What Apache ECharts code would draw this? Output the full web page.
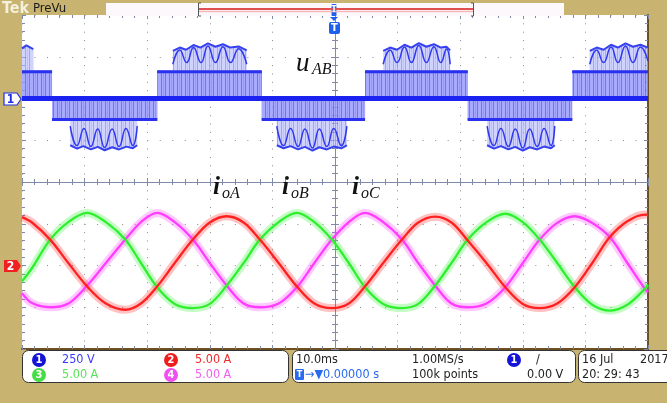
<!DOCTYPE html>
<html><head><meta charset="utf-8">
<script src="https://cdn.jsdelivr.net/npm/echarts@6/dist/echarts.min.js"></script>
<style>html,body{margin:0;padding:0;background:#c8b470;}#c{width:667px;height:403px;}</style>
</head><body><div id="c"></div><script>
// ---- time base (ms, trigger at 0), 10 ms/div ----
const timeMs = [-50,-48.4,-45.5,-42.6,-39.6,-36.6,-33.5,-31.0,-28.4,-25.6,-22.7,-20.0,-17.3,-14.6,-12.0,-9.0,-6.1,-3.3,-0.5,2.2,4.8,7.7,10.7,13.3,16.0,18.6,21.2,24.2,27.2,30.0,32.7,35.5,38.3,41.1,43.9,46.7,49.5,50];
// ---- currents (A), 5 A/div ----
const iOA = [5.8,5.15,3.1,0.3,-2.5,-4.55,-5.3,-4.55,-2.5,0.3,3.1,5.15,5.9,5.15,3.1,0.3,-2.5,-4.55,-5.1,-4.55,-2.5,0.3,3.1,5.15,5.85,5.15,3.0,0.3,-2.6,-4.6,-5.1,-4.55,-2.6,0.3,3.4,5.3,6.1,6.1];
const iOB = [-1.9,-0.3,3.1,5.2,6.3,5.2,3.1,0.3,-2.6,-4.6,-5.1,-4.6,-2.4,0.3,3.1,5.2,6.3,5.2,3.1,0.3,-2.6,-4.6,-5.1,-4.6,-2.4,0.3,3.1,5.2,6.2,5.2,3.1,0.3,-2.6,-4.7,-5.4,-4.7,-2.8,-2.3];
const iOC = [-3.3,-4.5,-5.0,-4.55,-2.4,0.3,3.1,5.2,6.3,5.2,3.1,0.3,-2.4,-4.55,-5.0,-4.55,-2.6,0.3,3.1,5.2,6.3,5.2,3.1,0.3,-2.4,-4.55,-5.0,-4.55,-2.6,0.3,3.1,5.1,5.9,5.1,3.4,0.3,-2.8,-3.2];
// ---- line voltage uAB (V), 250 V/div : [t, V] ----
const uabLevel1 = [[-50,160],[-45.2,160],[-45.2,-125],[-28.4,-125],[-28.4,160],[-11.7,160],[-11.7,-125],[4.8,-125],[4.8,160],[21.2,160],[21.2,-125],[37.9,-125],[37.9,160],[50,160]];
const uabOuter = [
 [-50,300],[-49.3,318],[-48.2,295],[-48.2,160],[-45.2,160],
 [-45.2,-125],[-42.3,-125],[-42.3,-280],[-41.2,-300],[-40.2,-285],[-39.0,-305],[-37.9,-290],[-36.8,-310],[-35.6,-292],[-34.5,-305],[-33.3,-288],[-32.3,-298],[-31.6,-280],[-31.6,-125],[-28.4,-125],
 [-28.4,160],[-25.9,160],[-25.9,285],[-24.8,305],[-23.8,292],[-22.6,320],[-21.5,305],[-20.3,330],[-19.1,310],[-17.9,325],[-16.7,305],[-15.4,312],[-14.1,288],[-14.1,160],[-11.7,160],
 [-11.7,-125],[-9.3,-125],[-9.3,-280],[-8.2,-298],[-7.1,-285],[-5.9,-305],[-4.8,-290],[-3.6,-312],[-2.5,-292],[-1.3,-305],[-0.2,-288],[1.0,-298],[1.9,-280],[1.9,-125],[4.8,-125],
 [4.8,160],[7.7,160],[7.7,285],[8.8,305],[9.9,292],[11.1,322],[12.2,305],[13.4,332],[14.6,310],[15.8,325],[16.9,305],[17.8,310],[18.4,288],[18.4,160],[21.2,160],
 [21.2,-125],[24.3,-125],[24.3,-280],[25.4,-300],[26.5,-285],[27.7,-305],[28.8,-290],[30.0,-312],[31.1,-292],[32.3,-305],[33.4,-288],[34.5,-298],[35.1,-280],[35.1,-125],[37.9,-125],
 [37.9,160],[40.7,160],[40.7,285],[41.8,305],[42.9,292],[44.1,322],[45.2,305],[46.4,330],[47.6,310],[48.8,322],[50,305]];
const uabRipple = [
 [-42.3,-165],[-41.2,-282],[-40.1,-180],[-39.0,-288],[-37.9,-182],[-36.8,-294],[-35.6,-182],[-34.5,-288],[-33.4,-180],[-32.3,-282],[-31.6,-165],null,
 [-25.9,205],[-24.8,290],[-23.7,215],[-22.6,305],[-21.4,215],[-20.3,315],[-19.1,215],[-17.9,310],[-16.7,215],[-15.4,298],[-14.1,205],null,
 [-9.3,-165],[-8.2,-282],[-7.1,-180],[-5.9,-288],[-4.8,-182],[-3.6,-296],[-2.5,-182],[-1.3,-288],[-0.2,-180],[1.0,-282],[1.9,-165],null,
 [7.7,205],[8.8,290],[9.9,215],[11.1,308],[12.2,215],[13.4,318],[14.6,215],[15.8,310],[16.9,215],[17.8,296],[18.4,205],null,
 [24.3,-165],[25.4,-282],[26.5,-180],[27.7,-288],[28.8,-182],[30.0,-296],[31.1,-182],[32.3,-288],[33.4,-180],[34.5,-282],[35.1,-165],null,
 [40.7,205],[41.8,290],[42.9,215],[44.1,308],[45.2,215],[46.4,315],[47.6,215],[48.8,308],[50,225]];
const uabZero = [[-50,0],[50,0]];

const BLUE='#1c22f0', RED='#ff2020', GREEN='#2ef02e', MAG='#ff3cff';
const TICK='#7f89a8', DOT='#8c8c8c', BROWN='#6e4f22';
const FONT='"DejaVu Sans Condensed","DejaVu Sans",sans-serif';

function pattern(base, a1, a2){
  const c=document.createElement('canvas'); c.width=8; c.height=4;
  const g=c.getContext('2d');
  g.fillStyle=base; g.fillRect(0,0,8,4);
  g.fillStyle='rgba(50,60,245,'+a1+')'; g.fillRect(1,0,1,4); g.fillRect(5,0,1,4);
  g.fillStyle='rgba(90,100,255,'+a2+')'; g.fillRect(3,0,1,4);
  return {image:c, repeat:'repeat'};
}
const pts = a => timeMs.map((t,i)=>[t,a[i]]);
// break a stepped trace at its vertical edges so only the horizontal runs are stroked
function runsOnly(a){const o=[];a.forEach((p,i)=>{if(i>0&&a[i-1][0]===p[0])o.push(null);o.push(p);});return o;}

function xa(o){return Object.assign({type:'value',min:-50,max:50,interval:10,axisLabel:{show:false},splitLine:{show:false},axisTick:{show:false},minorTick:{show:false},axisLine:{show:false,onZero:false}},o);}
function ya(o){return Object.assign({type:'value',min:-4,max:4,interval:1,axisLabel:{show:false},splitLine:{show:false},axisTick:{show:false},minorTick:{show:false},axisLine:{show:false,onZero:false}},o);}
const tk = (inside)=>({show:true,inside:inside,length:4,lineStyle:{color:TICK}});
const mtk = {show:true,splitNumber:5,length:3,lineStyle:{color:TICK}};

const xAxis=[
 xa({position:'bottom',axisLine:{show:true,onZero:false,lineStyle:{color:BROWN,width:2}},axisTick:tk(true),minorTick:mtk,
     splitLine:{show:true,lineStyle:{color:DOT,width:1,type:[1,7.35]}}}),
 xa({position:'top',axisTick:tk(true),minorTick:mtk}),
 xa({position:'bottom',axisLine:{show:true,onZero:true,onZeroAxisIndex:0,lineStyle:{color:TICK,width:1}},axisTick:tk(false),minorTick:mtk}),
 xa({position:'bottom',axisLine:{show:false,onZero:true,onZeroAxisIndex:0},axisTick:tk(true),minorTick:mtk})
];
const yAxis=[
 ya({position:'left',axisTick:tk(true),minorTick:mtk,splitLine:{show:true,lineStyle:{color:DOT,width:1,type:[1,11.52]}}}),
 ya({position:'right',axisLine:{show:true,onZero:false,lineStyle:{color:BROWN,width:2}},axisTick:tk(true),minorTick:mtk}),
 ya({position:'left',axisLine:{show:true,onZero:true,onZeroAxisIndex:0,lineStyle:{color:TICK,width:1}},axisTick:tk(false),minorTick:mtk}),
 ya({position:'left',axisLine:{show:false,onZero:true,onZeroAxisIndex:0},axisTick:tk(true),minorTick:mtk}),
 {type:'value',min:-1500,max:500,show:false},
 {type:'value',min:-10,max:30,show:false}
];

const L = (name,data,yi,style,extra)=>Object.assign({name,type:'line',data,xAxisIndex:0,yAxisIndex:yi,symbol:'none',silent:true,animation:false,lineStyle:style},extra||{});
const series=[
 L('uAB band',uabOuter,4,{width:0,opacity:0},{areaStyle:{origin:'auto',color:pattern('rgba(178,182,255,0.85)',0.5,0.3)},z:2}),
 L('uAB L1 band',uabLevel1,4,{width:0,opacity:0},{areaStyle:{origin:'auto',color:pattern('rgba(125,130,255,0.7)',0.55,0.35)},z:3}),
 L('uAB ripple',uabRipple,4,{width:1.5,color:'#3038ee'},{smooth:0.5,connectNulls:false,z:4}),
 L('uAB top',runsOnly(uabOuter),4,{width:2,color:'#3540f0'},{connectNulls:false,z:4}),
 L('uAB L1',runsOnly(uabLevel1),4,{width:3,color:'#2a30f0'},{connectNulls:false,z:4}),
 L('uAB zero',uabZero,4,{width:5,color:BLUE},{z:5}),
 L('iC glow',pts(iOC),5,{width:8,color:MAG,opacity:0.28},{smooth:0.35,z:6}),
 L('iC',pts(iOC),5,{width:2.3,color:MAG},{smooth:0.35,z:7}),
 L('iB glow',pts(iOB),5,{width:8,color:GREEN,opacity:0.28},{smooth:0.35,z:6}),
 L('iB',pts(iOB),5,{width:2.3,color:GREEN},{smooth:0.35,z:7}),
 L('iA glow',pts(iOA),5,{width:8,color:RED,opacity:0.28},{smooth:0.35,z:6}),
 L('iA',pts(iOA),5,{width:2.3,color:RED},{smooth:0.35,z:7})
];

// ---- decorations (screen furniture of the scope) ----
const G=[];
const T=(x,y,s,fill,font,align,va)=>G.push({type:'text',x,y,z:50,style:{text:s,fill,font,align:align||'left',verticalAlign:va||'middle'}});
const R=(x,y,w,h,fill,stroke,r,lw)=>G.push({type:'rect',z:40,shape:{x,y,width:w,height:h,r:r||0},style:{fill,stroke:stroke||null,lineWidth:lw||1}});
const C=(cx,cy,fill,label)=>{G.push({type:'circle',z:45,shape:{cx,cy,r:7},style:{fill}});T(cx,cy+0.5,label,'#fff','bold 11px '+FONT,'center','middle');};
// header
T(2,9,'Tek','#f4f0dc','bold 16px '+FONT);
T(33,9,'PreVu','#1a1a1a','13px '+FONT);
R(106,3,458,13,'#fdf8fb');
G.push({type:'line',z:42,shape:{x1:199,y1:9,x2:473,y2:9},style:{stroke:'#e05050',lineWidth:2}});
G.push({type:'line',z:42,shape:{x1:199,y1:11.5,x2:473,y2:11.5},style:{stroke:'#f4b8b8',lineWidth:1.5}});
G.push({type:'polyline',z:42,shape:{points:[[201,3],[198.5,3],[198.5,16],[201,16]]},style:{stroke:'#555',fill:null,lineWidth:1}});
G.push({type:'polyline',z:42,shape:{points:[[471,3],[473.5,3],[473.5,16],[471,16]]},style:{stroke:'#555',fill:null,lineWidth:1}});
R(331.5,4,5,12,'#1f5ff0',null,1);
T(334,10,'T','#fff','bold 9px '+FONT,'center');
// trigger marker in plot
G.push({type:'polygon',z:44,shape:{points:[[330,17],[338,17],[334,21]]},style:{fill:'#1f5ff0'}});
R(329,22,11,12,'#1f5ff0',null,2);
T(334.5,28.5,'T','#fff','bold 11px '+FONT,'center');
// channel markers
G.push({type:'polygon',z:44,shape:{points:[[4,93],[17,93],[21,99],[17,105],[4,105]]},style:{fill:'#fff',stroke:'#2030e0',lineWidth:1.2}});
T(10.5,99.5,'1','#2030e0','bold 12px '+FONT,'center');
G.push({type:'polygon',z:44,shape:{points:[[4,260],[17,260],[21,266],[17,272],[4,272]]},style:{fill:'#ee2020'}});
T(10.5,266.5,'2','#fff','bold 12px '+FONT,'center');
// waveform labels
const SER='"Liberation Serif","DejaVu Serif",serif';
T(296,64,'u','#111','italic 27px '+SER);
T(312,70,'AB','#111','italic 16px '+SER);
[[213,'A'],[282,'B'],[352,'C']].forEach(([x,s])=>{T(x,188,'i','#111','bold italic 25px '+SER);T(x+9,194,'o'+s,'#111','italic 16px '+SER);});
// bottom readout boxes
R(22.5,350.5,266,32,'#fff','#333',6,1);
R(292.5,350.5,283,32,'#fff','#333',6,1);
R(578.5,350.5,100,32,'#fff','#333',6,1);
const F12='12.5px '+FONT;
C(39,360,'#1414d8','1'); T(62,360,'250 V','#3a3aff',F12);
C(171,360,'#ee1c1c','2'); T(195,360,'5.00 A','#ee2a2a',F12);
C(39,375,'#44dd44','3'); T(62,375,'5.00 A','#5ae35a',F12);
C(171,375,'#f050f0','4'); T(195,375,'5.00 A','#f060f0',F12);
T(296,360,'10.0ms','#222',F12);
T(412,360,'1.00MS/s','#222',F12);
C(514,360,'#1414d8','1'); T(536,360,'/','#222',F12);
R(295,369,9,11,'#2a6af0',null,1); T(299.5,375,'T','#fff','bold 9px '+FONT,'center');
T(305,375,'→▼0.00000 s','#2a6af0',F12);
T(412,375,'100k points','#222',F12);
T(527,375,'0.00 V','#222',F12);
T(582,360,'16 Jul','#222',F12);
T(640,360,'2017','#222',F12);
T(582,375,'20: 29: 43','#222',F12);

const chart=echarts.init(document.getElementById('c'),null,{renderer:'canvas'});
chart.setOption({
  backgroundColor:'#c8b470',
  animation:false,
  grid:{left:22,top:15,width:626,height:334,show:true,backgroundColor:'#ffffff',borderWidth:0},
  xAxis, yAxis, series, graphic:G
});
</script></body></html>
